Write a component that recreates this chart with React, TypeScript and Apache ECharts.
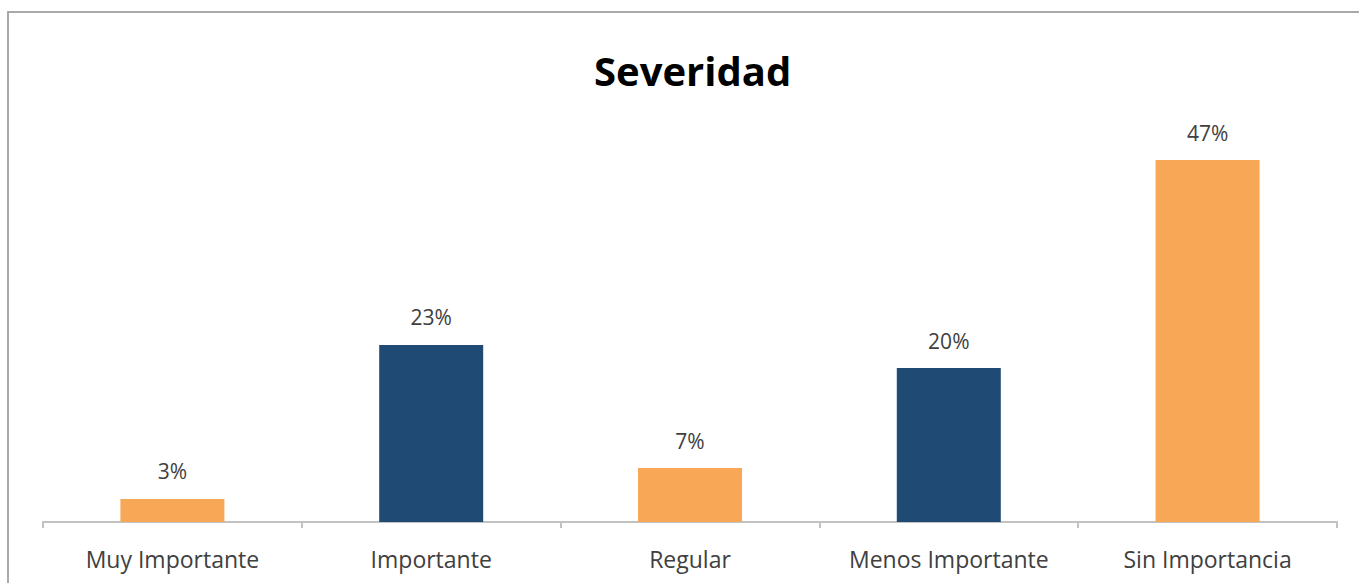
import React, { useEffect, useRef } from "react";
import * as echarts from "echarts";

const categories = ["Muy Importante", "Importante", "Regular", "Menos Importante", "Sin Importancia"];
const values = [3, 23, 7, 20, 47];
const barColors = ["#F8A757", "#1F4A73", "#F8A757", "#1F4A73", "#F8A757"];
const titleText = "Severidad";

export default function App() {
  const ref = useRef<HTMLDivElement>(null);
  useEffect(() => {
    if (!ref.current) return;
    const chart = echarts.init(ref.current, null, { renderer: "svg" });
    chart.setOption({
      animation: false,
      backgroundColor: "#ffffff",
      title: {
        text: titleText,
        left: 589,
        top: 45,
        textStyle: { fontFamily: "Open Sans", fontWeight: "bold", fontSize: 40, color: "#000000" },
      },
      graphic: [
        {
          type: "rect",
          shape: { x: 8, y: 12, width: 1400, height: 620 },
          style: { fill: "none", stroke: "#a9a9a9", lineWidth: 2 },
          silent: true,
        },
      ],
      grid: { left: 43, right: 22, top: 137, bottom: 61 },
      xAxis: {
        type: "category",
        data: categories,
        axisLine: { lineStyle: { color: "#c2c2c2", width: 2 } },
        axisTick: { show: true, interval: 0, length: 6, lineStyle: { color: "#c2c2c2", width: 2 } },
        axisLabel: {
          interval: 0,
          hideOverlap: false,
          fontFamily: "Open Sans",
          fontSize: 23,
          color: "#404040",
          margin: 25,
        },
      },
      yAxis: {
        type: "value",
        min: 0,
        max: 50,
        show: false,
        splitLine: { show: false },
      },
      series: [
        {
          type: "bar",
          barWidth: 104,
          data: values.map((v, i) => ({ value: v, itemStyle: { color: barColors[i] } })),
          label: {
            show: true,
            position: "top",
            distance: 17,
            formatter: (p: any) => p.value + "%",
            fontFamily: "Open Sans",
            fontSize: 21,
            color: "#404040",
          },
        },
      ],
    });
    return () => chart.dispose();
  }, []);
  return <div ref={ref} style={{ position: "absolute", left: 0, top: 0, width: 1359, height: 583 }} />;
}
